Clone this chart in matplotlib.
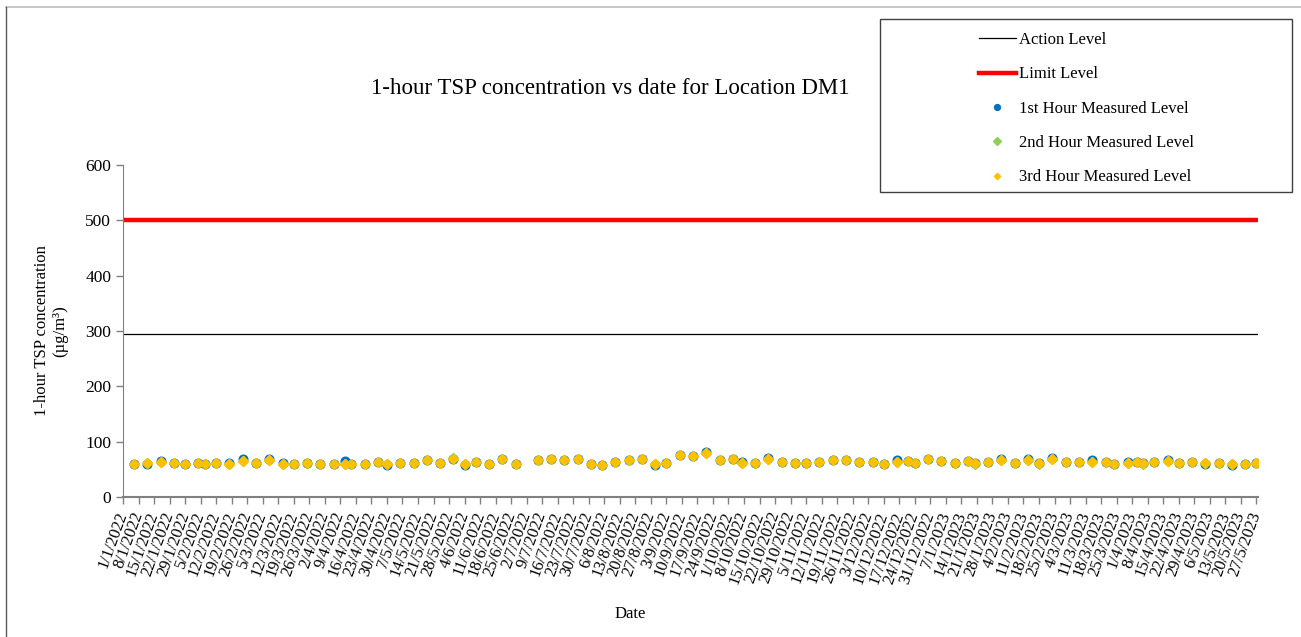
# coding=utf-8
import matplotlib
matplotlib.use("Agg")
from matplotlib import pyplot as plt
from matplotlib.lines import Line2D
from matplotlib.patches import Rectangle
import pandas as pd

plt.rcParams['font.family'] = ['Liberation Serif', 'DejaVu Serif']

# 监测日期
dates = ["6/1/2022", "12/1/2022", "18/1/2022", "24/1/2022", "29/1/2022", "4/2/2022", "7/2/2022",
         "12/2/2022", "18/2/2022", "24/2/2022", "2/3/2022", "8/3/2022", "14/3/2022", "19/3/2022",
         "25/3/2022", "31/3/2022", "6/4/2022", "11/4/2022", "14/4/2022", "20/4/2022", "26/4/2022",
         "30/4/2022", "6/5/2022", "12/5/2022", "18/5/2022", "24/5/2022", "30/5/2022", "4/6/2022",
         "9/6/2022", "15/6/2022", "21/6/2022", "27/6/2022", "7/7/2022", "13/7/2022", "19/7/2022",
         "25/7/2022", "31/7/2022", "5/8/2022", "11/8/2022", "17/8/2022", "23/8/2022", "29/8/2022",
         "3/9/2022", "9/9/2022", "15/9/2022", "21/9/2022", "27/9/2022", "3/10/2022", "7/10/2022",
         "13/10/2022", "19/10/2022", "25/10/2022", "31/10/2022", "5/11/2022", "11/11/2022",
         "17/11/2022", "23/11/2022", "29/11/2022", "5/12/2022", "10/12/2022", "16/12/2022",
         "21/12/2022", "24/12/2022", "30/12/2022", "5/1/2023", "11/1/2023", "17/1/2023",
         "20/1/2023", "26/1/2023", "1/2/2023", "7/2/2023", "13/2/2023", "18/2/2023", "24/2/2023",
         "2/3/2023", "8/3/2023", "14/3/2023", "20/3/2023", "24/3/2023", "30/3/2023", "3/4/2023",
         "6/4/2023", "11/4/2023", "17/4/2023", "22/4/2023", "28/4/2023", "4/5/2023", "10/5/2023",
         "16/5/2023", "22/5/2023", "27/5/2023"]

hour1 = [60, 60, 65, 62, 60, 61, 60, 62, 61, 68, 62, 69, 62, 60, 61,
         59, 60, 65, 60, 60, 64, 58, 61, 62, 66, 62, 69, 58, 64, 60, 69,
         60, 67, 68, 66, 68, 60, 57, 64, 66, 69, 58, 61, 76, 74,
         81, 67, 69, 64, 61, 70, 64, 62, 62, 64, 67, 66, 64, 63, 60,
         66, 65, 62, 68, 65, 61, 65, 61, 64, 68, 62, 69, 62, 70, 64,
         64, 66, 63, 60, 63, 64, 61, 64, 67, 62, 64, 60, 61, 58, 60, 62]
hour2 = [60, 61, 63, 62, 60, 61, 60, 61, 60, 65, 62, 66, 59, 60, 61,
         60, 60, 60, 60, 60, 64, 60, 61, 62, 66, 62, 70, 60, 64, 60, 69,
         60, 66, 68, 66, 68, 60, 57, 64, 66, 69, 60, 61, 76, 74,
         80, 67, 69, 62, 61, 68, 64, 62, 62, 64, 67, 66, 64, 63, 60,
         63, 65, 62, 68, 65, 61, 65, 60, 64, 66, 62, 67, 60, 68, 64,
         64, 64, 63, 59, 62, 64, 60, 64, 65, 62, 64, 62, 61, 60, 60, 62]
hour3 = [60, 61, 63, 62, 60, 61, 60, 61, 60, 65, 62, 66, 59, 60, 61,
         60, 60, 60, 60, 60, 64, 60, 61, 62, 66, 62, 69, 60, 64, 60, 69,
         60, 66, 68, 66, 68, 60, 57, 64, 66, 69, 60, 61, 76, 74,
         80, 67, 69, 62, 61, 68, 64, 62, 62, 64, 67, 66, 64, 63, 60,
         63, 65, 62, 68, 65, 61, 65, 61, 64, 66, 62, 67, 62, 68, 64,
         64, 64, 63, 60, 62, 64, 61, 64, 65, 62, 64, 62, 61, 60, 60, 62]

action_level = 294
limit_level = 500

x = pd.to_datetime(dates, format="%d/%m/%Y")
start = pd.Timestamp(2022, 1, 1)
end = pd.Timestamp(2023, 5, 27)

fig = plt.figure(figsize=(13.01, 6.37), dpi=100)
ax = fig.add_axes([123 / 1301, 1 - 497 / 637, (1258 - 123) / 1301, (497 - 165) / 637])

ax.axhline(action_level, color='black', lw=0.9, zorder=2)
ax.axhline(limit_level, color='#ff0000', lw=3.2, zorder=2)
ax.plot(x, hour1, 'o', color='#0070c0', ms=6.2, zorder=3)
ax.plot(x, hour2, 'D', color='#92d050', ms=5.6, zorder=4)
ax.plot(x, hour3, 'D', color='#ffc000', ms=4.7, zorder=5)

ax.set_ylim(0, 600)
ax.set_yticks(range(0, 601, 100))
ax.set_xlim(start, end + pd.Timedelta(hours=18))

# x轴刻度: 每7天
ticks = pd.date_range(start, end, freq='7D')
tick_labels = ["{}/{}/{}".format(t.day, t.month, t.year) for t in ticks]
ax.set_xticks(ticks)
ax.set_xticklabels(tick_labels, rotation=70, ha='right', va='center',
                   rotation_mode='anchor', fontsize=12)
ax.tick_params(axis='x', direction='out', length=5, width=1, color='#808080', pad=6)
ax.tick_params(axis='y', direction='out', length=5, width=1, color='#808080', labelsize=12.5)

for s in ['top', 'right']:
    ax.spines[s].set_visible(False)
ax.spines['left'].set_color('#808080')
ax.spines['bottom'].set_color('#808080')
ax.spines['bottom'].set_linewidth(1.5)

ax.set_ylabel("1-hour TSP concentration\n(µg/m³)", fontsize=12, labelpad=12)
fig.text(630 / 1301, 1 - 614 / 637, "Date", fontsize=12, ha='center', va='center')
fig.text(610 / 1301, 1 - 88 / 637, "1-hour TSP concentration vs date for Location DM1",
         fontsize=16.5, ha='center', va='center')

# 图表外框
fig.add_artist(Line2D([6 / 1301, 1], [1 - 7 / 637, 1 - 7 / 637], color='#bfbfbf', lw=1.2))
fig.add_artist(Line2D([6 / 1301, 6 / 1301], [0, 1 - 7 / 637], color='#595959', lw=1))

# 图例
handles = [
    Line2D([], [], color='black', lw=0.9),
    Line2D([], [], color='#ff0000', lw=3.2),
    Line2D([], [], ls='', marker='o', color='#0070c0', ms=4.2),
    Line2D([], [], ls='', marker='D', color='#92d050', ms=3.6),
    Line2D([], [], ls='', marker='D', color='#ffc000', ms=3.2),
]
labels = ["Action Level", "Limit Level", "1st Hour Measured Level",
          "2nd Hour Measured Level", "3rd Hour Measured Level"]
fig.add_artist(Rectangle((880 / 1301, 1 - 192 / 637), (1292 - 880) / 1301, (192 - 19) / 637,
                         transform=fig.transFigure, fill=False, ec='#404040', lw=1))
fig.legend(handles, labels, loc='upper left', bbox_to_anchor=(979 / 1301, 1 - 32 / 637),
           frameon=False, fontsize=12, handlelength=2.2, handletextpad=0.2,
           labelspacing=1.1, borderpad=0, borderaxespad=0)

plt.savefig("out.png", dpi=100)
